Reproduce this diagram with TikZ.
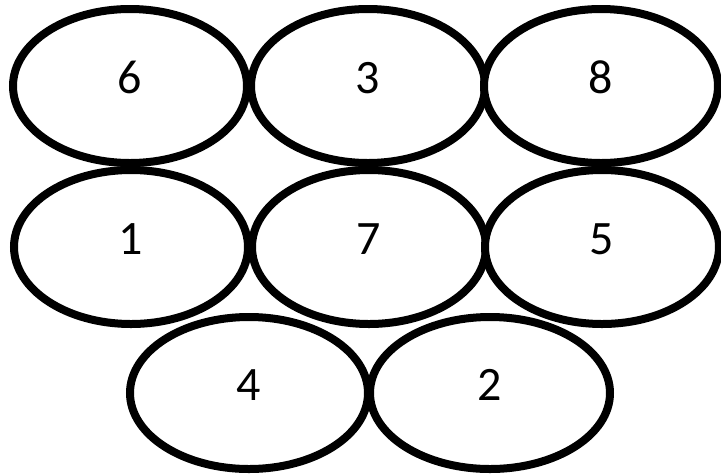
\documentclass[tikz,border=0pt]{standalone}
\usepackage{fontspec}
\setmainfont{Carlito}
\usetikzlibrary{shapes.geometric}
\begin{document}
\begin{tikzpicture}[x=1pt,y=-1pt,
  oval/.style={ellipse, draw=black, line width=8pt, fill=white,
    minimum width=234pt, minimum height=154pt, inner sep=0pt,
    font=\fontsize{48}{48}\selectfont, text height=30pt, text depth=16pt}]
\useasboundingbox (0,0) rectangle (721,475);
% top row
\node[oval] (e6) at (130,86) {6};
\node[oval] (e3) at (368,86) {3};
\node[oval] (e8) at (601,86) {8};
% middle row
\node[oval] (e1) at (131,247) {1};
\node[oval] (e7) at (369,247) {7};
\node[oval] (e5) at (602,247) {5};
% bottom row
\node[oval, minimum width=238pt, minimum height=152pt] (e4) at (249,393) {4};
\node[oval, minimum width=240pt, minimum height=152pt] (e2) at (490,393) {2};
\end{tikzpicture}
\end{document}
